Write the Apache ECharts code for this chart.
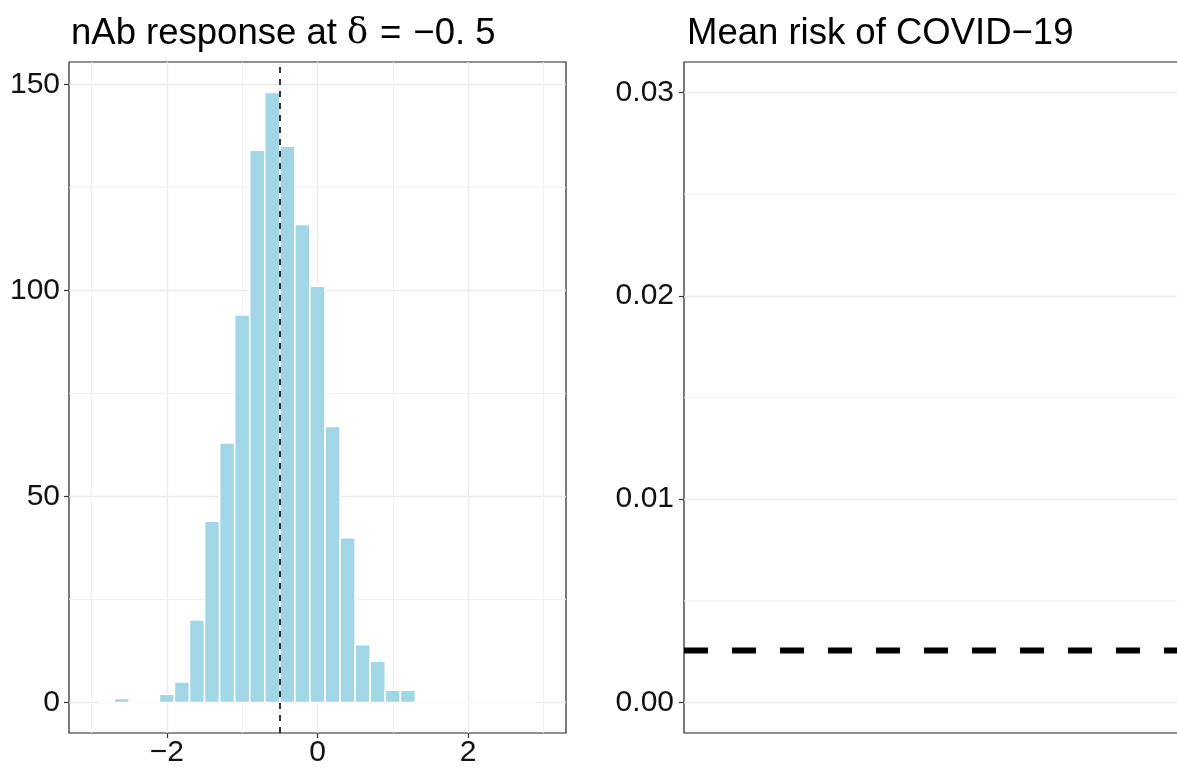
<!DOCTYPE html>
<html>
<head>
<meta charset="utf-8">
<script src="https://cdn.jsdelivr.net/npm/echarts@6/dist/echarts.min.js"></script>
<style>
  html, body { margin: 0; padding: 0; background: #ffffff; }
  #chart { width: 1177px; height: 768px; }
</style>
</head>
<body>
<div id="chart"></div>
<script>
// nAb response histogram: bin centres and counts (bin width 0.2)
const binCenters = [-2.8, -2.6, -2.4, -2.2, -2.0, -1.8, -1.6, -1.4, -1.2, -1.0,
                    -0.8, -0.6, -0.4, -0.2, 0.0, 0.2, 0.4, 0.6, 0.8, 1.0,
                    1.2, 1.4, 1.6, 1.8, 2.0, 2.2, 2.4, 2.6, 2.8];
const binCounts  = [0, 1, 0, 0, 2, 5, 20, 44, 63, 94,
                    134, 148, 135, 116, 101, 67, 40, 14, 10, 3,
                    3, 0, 0, 0, 0, 0, 0, 0, 0];
const binWidth = 0.2;
const delta = [-0.5];

// Mean risk of COVID-19
const meanRisk = [0.00256];

// Tick values
const histXTicks = [-2, 0, 2];
const histXMinor = [-3, -1, 1, 3];
const histYTicks = [0, 50, 100, 150];
const histYMinor = [25, 75, 125];
const riskYTicks = [0, 0.01, 0.02, 0.03];
const riskYMinor = [0.005, 0.015, 0.025];

const FONT = 'Liberation Sans, Arial, sans-serif';
const GRID_MAJOR = '#ebebeb';
const GRID_MINOR = '#efefef';
const BAR_FILL = '#a0d6e6';

const fmtSigned = v => (v < 0 ? '\u2212' + Math.abs(v) : String(v));

const histData = binCenters.map((c, i) => [c, binCounts[i]]);

const tickLabel = { color: '#111', fontFamily: FONT, fontSize: 30 };

// Horizontal line across the risk panel at a given value
function flatLine(value, style, z) {
  return {
    type: 'line', xAxisIndex: 1, yAxisIndex: 1, z: z, silent: true,
    symbol: 'none', animation: false,
    data: [[0, value], [1, value]],
    lineStyle: style
  };
}

const option = {
  animation: false,
  backgroundColor: '#ffffff',
  title: [
    {
      text: '{a|nAb response at }{d|\u03b4}{e|=}{a|\u22120. 5}',
      left: 66, top: 10,
      textStyle: {
        fontWeight: 'normal',
        rich: {
          a: { fontFamily: FONT, fontSize: 36.5, fontWeight: 'normal', color: '#000' },
          d: { fontFamily: 'DejaVu Serif, Liberation Serif, serif', fontSize: 35, fontWeight: 'normal', color: '#000' },
          e: { fontFamily: FONT, fontSize: 36.5, fontWeight: 'normal', color: '#000', padding: [0, 12, 0, 12] }
        }
      }
    },
    {
      text: 'Mean risk of COVID\u221219',
      left: 682, top: 10,
      textStyle: { fontFamily: FONT, fontSize: 36.5, fontWeight: 'normal', color: '#000' }
    }
  ],
  grid: [
    { left: 69, top: 62, width: 497, bottom: 35, show: true, borderColor: '#222', borderWidth: 1.2,
      backgroundColor: 'transparent', containLabel: false, outerBoundsMode: 'none' },
    { left: 684, top: 62, right: -30, bottom: 35, show: true, borderColor: '#222', borderWidth: 1.2,
      backgroundColor: 'transparent', containLabel: false, outerBoundsMode: 'none' }
  ],
  xAxis: [
    {
      type: 'value', gridIndex: 0, min: -3.3, max: 3.3,
      axisLine: { show: false, onZero: false },
      axisTick: { show: true, length: 5, customValues: histXTicks, lineStyle: { color: '#333', width: 1.2 } },
      axisLabel: { show: true, margin: 5, customValues: histXTicks, formatter: fmtSigned, ...tickLabel },
      splitLine: { show: true, lineStyle: { color: GRID_MAJOR, width: 1.3 } }
    },
    {
      type: 'value', gridIndex: 1, min: 0, max: 1,
      axisLine: { show: false, onZero: false },
      axisTick: { show: false },
      axisLabel: { show: false },
      splitLine: { show: false }
    }
  ],
  yAxis: [
    {
      type: 'value', gridIndex: 0, min: -7.4, max: 155.4,
      axisLine: { show: false, onZero: false },
      axisTick: { show: true, length: 5, customValues: histYTicks, lineStyle: { color: '#333', width: 1.2 } },
      axisLabel: { show: true, margin: 9, customValues: histYTicks, ...tickLabel },
      splitLine: { show: true, lineStyle: { color: GRID_MAJOR, width: 1.3 } }
    },
    {
      type: 'value', gridIndex: 1, min: -0.0015, max: 0.0315,
      axisLine: { show: false, onZero: false },
      axisTick: { show: true, length: 5, customValues: riskYTicks, lineStyle: { color: '#333', width: 1.2 } },
      axisLabel: { show: true, margin: 10, customValues: riskYTicks, formatter: v => v.toFixed(2), ...tickLabel },
      splitLine: { show: true, lineStyle: { color: GRID_MAJOR, width: 1.3 } }
    }
  ],
  series: [
    // minor grid lines, histogram panel
    {
      type: 'line', xAxisIndex: 0, yAxisIndex: 0, data: [], z: 1, silent: true,
      markLine: {
        z: 1, silent: true, symbol: 'none', label: { show: false }, animation: false,
        lineStyle: { color: GRID_MINOR, width: 0.9, type: 'solid' },
        data: histXMinor.map(v => ({ xAxis: v })).concat(histYMinor.map(v => ({ yAxis: v })))
      }
    },
    // minor grid lines, risk panel
    ...riskYMinor.map(v => flatLine(v, { color: GRID_MINOR, width: 0.9, type: 'solid' }, 1)),
    // histogram bars
    {
      type: 'custom', xAxisIndex: 0, yAxisIndex: 0, z: 3,
      data: histData,
      renderItem: function (params, api) {
        const x = api.value(0), n = api.value(1);
        const p0 = api.coord([x - binWidth / 2, n]);
        const p1 = api.coord([x + binWidth / 2, 0]);
        return {
          type: 'rect',
          shape: { x: p0[0], y: p0[1], width: p1[0] - p0[0], height: p1[1] - p0[1] },
          style: { fill: BAR_FILL, stroke: '#ffffff', lineWidth: 1.6 }
        };
      },
      markLine: {
        silent: true, symbol: 'none', label: { show: false }, animation: false,
        lineStyle: { color: '#000', width: 1.6, type: [6, 6] },
        data: delta.map(v => ({ xAxis: v }))
      }
    },
    // mean risk line
    ...meanRisk.map(v => flatLine(v, { color: '#000', width: 6, type: [24, 24], cap: 'butt' }, 4))
  ]
};

const chart = echarts.init(document.getElementById('chart'), null, { renderer: 'canvas' });
chart.setOption(option);
</script>
</body>
</html>
